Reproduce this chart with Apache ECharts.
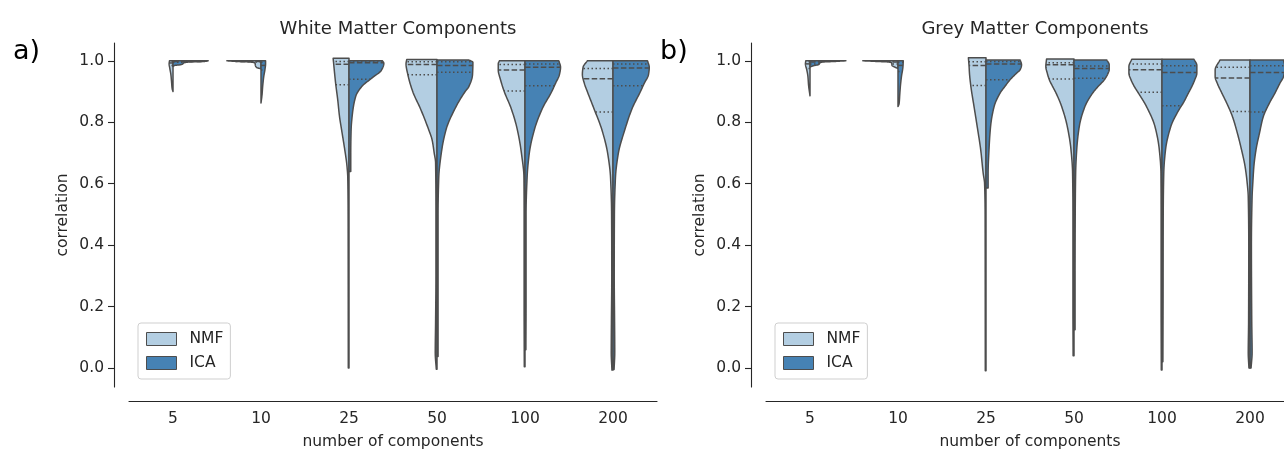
<!DOCTYPE html>
<html>
<head>
<meta charset="utf-8">
<script src="https://cdn.jsdelivr.net/npm/echarts@6/dist/echarts.min.js"></script>
<style>html,body{margin:0;padding:0;background:#fff;}#chart{width:1284px;height:449px;}</style>
</head>
<body>
<div id="chart"></div>
<script>
// ---------------- data ----------------
const categories = ['5', '10', '25', '50', '100', '200'];
const yTicks = [0, 0.2, 0.4, 0.6, 0.8, 1.0];
const seriesNames = ['NMF', 'ICA'];
const panelTitles = ['White Matter Components', 'Grey Matter Components'];
const panelLetters = ['a)', 'b)'];

// density profiles: [correlation, relative half-width] per category
const wmNMF = [
  [[1.0,0.10],[0.99,0.11],[0.975,0.09],[0.955,0.06],[0.93,0.04],[0.91,0.025],[0.90,0.0]],
  [[1.0,0.97],[0.998,0.7],[0.996,0.3],[0.993,0.17],[0.985,0.16],[0.978,0.12],[0.974,0.0]],
  [[1.008,0.45],[0.96,0.41],[0.927,0.38],[0.873,0.32],[0.819,0.27],[0.775,0.21],[0.71,0.12],[0.66,0.06],[0.62,0.035],[0.5,0.025],[0.25,0.022],[0.0,0.02]],
  [[1.004,0.86],[0.99,0.88],[0.956,0.83],[0.90,0.69],[0.844,0.47],[0.777,0.24],[0.743,0.14],[0.70,0.08],[0.668,0.04],[0.5,0.03],[0.3,0.03],[0.15,0.04],[0.05,0.05],[-0.004,0.02]],
  [[1.0,0.73],[0.99,0.76],[0.97,0.76],[0.94,0.70],[0.90,0.59],[0.844,0.39],[0.777,0.22],[0.698,0.10],[0.62,0.03],[0.5,0.025],[0.2,0.025],[0.004,0.02]],
  [[1.0,0.73],[0.979,0.85],[0.956,0.87],[0.925,0.81],[0.90,0.73],[0.844,0.54],[0.777,0.32],[0.698,0.15],[0.62,0.07],[0.5,0.04],[0.3,0.035],[0.15,0.045],[0.05,0.05],[-0.007,0.03]]
];
const wmICA = [
  [[1.0,1.0],[0.998,0.9],[0.996,0.45],[0.993,0.3],[0.99,0.28],[0.987,0.2],[0.985,0.05],[0.982,0.0]],
  [[1.0,0.13],[0.99,0.13],[0.97,0.11],[0.95,0.08],[0.92,0.05],[0.89,0.03],[0.863,0.0]],
  [[1.0,0.95],[0.992,0.99],[0.971,0.93],[0.943,0.64],[0.916,0.36],[0.884,0.19],[0.82,0.09],[0.775,0.06],[0.70,0.05],[0.64,0.05]],
  [[1.003,0.9],[0.995,1.02],[0.956,1.01],[0.915,0.9],[0.90,0.8],[0.844,0.51],[0.777,0.26],[0.698,0.12],[0.62,0.05],[0.5,0.03],[0.2,0.03],[0.037,0.03]],
  [[1.0,0.96],[0.979,1.01],[0.956,0.98],[0.925,0.86],[0.90,0.76],[0.844,0.49],[0.777,0.27],[0.698,0.12],[0.62,0.06],[0.5,0.03],[0.2,0.03],[0.059,0.025]],
  [[1.0,0.98],[0.979,1.03],[0.956,1.01],[0.925,0.88],[0.90,0.78],[0.844,0.54],[0.777,0.34],[0.698,0.15],[0.62,0.07],[0.5,0.04],[0.3,0.035],[0.15,0.045],[0.05,0.05],[-0.005,0.03]]
];
const gmNMF = [
  [[1.0,0.12],[0.99,0.13],[0.97,0.09],[0.95,0.06],[0.92,0.04],[0.886,0.0]],
  [[1.0,1.0],[0.998,0.6],[0.996,0.25],[0.993,0.18],[0.985,0.17],[0.98,0.1],[0.975,0.0]],
  [[1.01,0.50],[0.981,0.48],[0.96,0.47],[0.917,0.43],[0.851,0.34],[0.786,0.25],[0.71,0.15],[0.634,0.08],[0.6,0.04],[0.5,0.025],[0.25,0.022],[-0.009,0.02]],
  [[1.006,0.78],[0.981,0.80],[0.96,0.76],[0.938,0.70],[0.917,0.61],[0.895,0.51],[0.851,0.35],[0.786,0.19],[0.71,0.085],[0.634,0.04],[0.5,0.03],[0.2,0.03],[0.04,0.025]],
  [[1.005,0.86],[0.981,0.94],[0.96,0.94],[0.938,0.88],[0.917,0.79],[0.895,0.67],[0.851,0.44],[0.786,0.2],[0.71,0.076],[0.634,0.03],[0.5,0.025],[0.2,0.025],[-0.007,0.02]],
  [[1.003,0.85],[0.97,0.99],[0.948,0.99],[0.927,0.93],[0.895,0.80],[0.862,0.66],[0.819,0.50],[0.765,0.36],[0.71,0.24],[0.656,0.14],[0.602,0.08],[0.558,0.05],[0.4,0.035],[0.15,0.04],[0.05,0.05],[0.0,0.03]]
];
const gmICA = [
  [[1.0,1.02],[0.998,0.7],[0.996,0.35],[0.993,0.28],[0.988,0.25],[0.984,0.1],[0.98,0.0]],
  [[1.0,0.15],[0.98,0.14],[0.95,0.10],[0.92,0.07],[0.89,0.05],[0.86,0.03],[0.851,0.0]],
  [[1.003,0.97],[0.987,1.01],[0.971,0.97],[0.96,0.87],[0.938,0.68],[0.917,0.54],[0.895,0.40],[0.851,0.23],[0.786,0.13],[0.71,0.085],[0.634,0.06],[0.586,0.06]],
  [[1.003,0.93],[0.987,1.0],[0.971,1.0],[0.96,0.97],[0.938,0.86],[0.917,0.69],[0.895,0.53],[0.851,0.31],[0.786,0.15],[0.71,0.077],[0.634,0.047],[0.5,0.035],[0.3,0.03],[0.124,0.03]],
  [[1.005,0.91],[0.985,0.99],[0.96,0.99],[0.938,0.93],[0.917,0.85],[0.895,0.75],[0.862,0.6],[0.846,0.51],[0.786,0.25],[0.71,0.1],[0.634,0.05],[0.5,0.035],[0.2,0.03],[0.02,0.025]],
  [[1.003,0.95],[0.975,1.0],[0.948,0.95],[0.927,0.85],[0.895,0.71],[0.862,0.55],[0.819,0.38],[0.765,0.27],[0.71,0.17],[0.656,0.11],[0.602,0.08],[0.558,0.06],[0.4,0.04],[0.15,0.05],[0.05,0.06],[0.0,0.03]]
];

// quartiles [q1, median, q3]
const wmNMFQuart = [[0.985,0.993,0.998],[0.996,0.998,0.999],[0.922,0.989,0.998],[0.955,0.988,0.997],[0.902,0.970,0.988],[0.833,0.942,0.975]];
const wmICAQuart = [[0.995,0.998,0.999],[0.970,0.985,0.995],[0.940,0.994,0.999],[0.963,0.985,0.997],[0.919,0.979,0.990],[0.919,0.977,0.990]];
const gmNMFQuart = [[0.975,0.990,0.997],[0.990,0.996,0.999],[0.920,0.985,0.997],[0.941,0.987,0.994],[0.898,0.971,0.990],[0.835,0.944,0.979]];
const gmICAQuart = [[0.990,0.996,0.999],[0.965,0.985,0.995],[0.938,0.990,0.998],[0.943,0.975,0.983],[0.854,0.962,0.984],[0.833,0.962,0.984]];

// ---------------- style ----------------
const FONT = 'DejaVu Sans';
const TXT = '#262626';
const EDGE = '#4d4d4d';
const COLORS = { NMF: '#b3cee2', ICA: '#4682b4' };

function makeInterp(profile) {
  const pts = profile.slice().sort((a, b) => a[0] - b[0]);
  const xs = pts.map(p => p[0]), ys = pts.map(p => p[1]);
  const n = xs.length;
  const h = [], d = [];
  for (let i = 0; i < n - 1; i++) { h[i] = xs[i + 1] - xs[i]; d[i] = (ys[i + 1] - ys[i]) / h[i]; }
  const m = new Array(n);
  m[0] = d[0]; m[n - 1] = d[n - 2];
  for (let i = 1; i < n - 1; i++) {
    if (d[i - 1] * d[i] <= 0) m[i] = 0;
    else {
      const w1 = 2 * h[i] + h[i - 1], w2 = h[i] + 2 * h[i - 1];
      m[i] = (w1 + w2) / (w1 / d[i - 1] + w2 / d[i]);
    }
  }
  const f = function (x) {
    if (x <= xs[0]) return ys[0];
    if (x >= xs[n - 1]) return ys[n - 1];
    let k = 0;
    while (k < n - 2 && x > xs[k + 1]) k++;
    const t = (x - xs[k]) / h[k];
    const t2 = t * t, t3 = t2 * t;
    const v = (2 * t3 - 3 * t2 + 1) * ys[k] + (t3 - 2 * t2 + t) * h[k] * m[k] +
      (-2 * t3 + 3 * t2) * ys[k + 1] + (t3 - t2) * h[k] * m[k + 1];
    return Math.max(0, v);
  };
  const samples = [];
  for (let i = n - 1; i > 0; i--) {
    for (let s = 0; s < 12; s++) samples.push(xs[i] - (xs[i] - xs[i - 1]) * s / 12);
  }
  samples.push(xs[0]);
  return { f, samples, vmin: xs[0], vmax: xs[n - 1] };
}

function makeRender(profiles, quarts, side, color) {
  return function (params, api) {
    const i = api.value(0);
    const ip = makeInterp(profiles[i]);
    const hm = api.size([1, 0])[0] * 0.4;
    const cx = api.coord([i, 0])[0];
    const pts = [[cx, api.coord([i, ip.vmax])[1]]];
    ip.samples.forEach(v => pts.push([cx + side * ip.f(v) * hm, api.coord([i, v])[1]]));
    pts.push([cx, api.coord([i, ip.vmin])[1]]);
    const children = [{
      type: 'polygon', shape: { points: pts },
      style: { fill: color, stroke: EDGE, lineWidth: 1.5, lineJoin: 'round' }
    }];
    quarts[i].forEach((q, k) => {
      const y = api.coord([i, q])[1];
      children.push({
        type: 'line',
        shape: { x1: cx, y1: y, x2: cx + side * ip.f(q) * hm, y2: y },
        style: { stroke: EDGE, lineWidth: 1.5, lineDash: k === 1 ? [5.5, 2.4] : [1.5, 2.5] }
      });
    });
    return { type: 'group', children };
  };
}

const gridLefts = [129, 766];
const panels = [
  { NMF: wmNMF, ICA: wmICA, NMFq: wmNMFQuart, ICAq: wmICAQuart },
  { NMF: gmNMF, ICA: gmICA, NMFq: gmNMFQuart, ICAq: gmICAQuart }
];

const option = {
  animation: false,
  textStyle: { fontFamily: FONT },
  title: [
    ...panelTitles.map((t, p) => ({
      text: t, left: gridLefts[p] + 264, textAlign: 'center', top: 15,
      textStyle: { fontFamily: FONT, fontSize: 18, fontWeight: 'normal', color: TXT }
    })),
    ...panelLetters.map((t, p) => ({
      text: t, left: p === 0 ? 8 : 655, top: 33,
      textStyle: { fontFamily: FONT, fontSize: 27, fontWeight: 'normal', color: '#000' }
    }))
  ],
  grid: gridLefts.map(l => ({ left: l, top: 43, width: 528, height: 344, outerBoundsMode: 'none', containLabel: false })),
  xAxis: gridLefts.map((l, p) => ({
    type: 'category', gridIndex: p, data: categories, offset: 14,
    name: 'number of components', nameLocation: 'middle', nameGap: 33,
    nameTextStyle: { fontFamily: FONT, fontSize: 15.5, color: TXT },
    axisLine: { onZero: false, lineStyle: { color: TXT, width: 1.1 } },
    axisTick: { alignWithLabel: true, length: 6, lineStyle: { color: TXT, width: 1.1 } },
    axisLabel: { fontFamily: FONT, fontSize: 15.5, color: TXT, margin: 10 },
    splitLine: { show: false }
  })),
  yAxis: gridLefts.map((l, p) => ({
    type: 'value', gridIndex: p, min: -0.062, max: 1.058, offset: 15,
    name: 'correlation', nameLocation: 'middle', nameGap: 43, nameRotate: 90,
    nameTextStyle: { fontFamily: FONT, fontSize: 15.5, color: TXT },
    axisLine: { show: true, onZero: false, lineStyle: { color: TXT, width: 1.1 } },
    axisTick: { show: true, length: 6, customValues: yTicks, lineStyle: { color: TXT, width: 1.1 } },
    axisLabel: { fontFamily: FONT, fontSize: 15.5, color: TXT, margin: 10, customValues: yTicks,
      formatter: v => v.toFixed(1) },
    splitLine: { show: false }
  })),
  legend: gridLefts.map(l => ({
    orient: 'vertical', left: l + 9, top: 323,
    padding: [8, 7, 8, 8], itemGap: 8, itemWidth: 30, itemHeight: 13,
    borderColor: '#cfcfcf', borderWidth: 1, borderRadius: 3, backgroundColor: '#fff',
    textStyle: { fontFamily: FONT, fontSize: 15.5, color: TXT, padding: [0, 0, 0, 8] },
    data: seriesNames.map(n => ({ name: n, icon: 'rect',
      itemStyle: { color: COLORS[n], borderColor: EDGE, borderWidth: 1 } }))
  })),
  series: []
};

panels.forEach((pd, p) => {
  seriesNames.forEach((n, k) => {
    option.series.push({
      type: 'custom', name: n, xAxisIndex: p, yAxisIndex: p,
      itemStyle: { color: COLORS[n] },
      data: categories.map((c, i) => [i, 1]),
      encode: { x: 0, y: 1 },
      renderItem: makeRender(pd[n], pd[n + 'q'], k === 0 ? -1 : 1, COLORS[n])
    });
  });
});

const chart = echarts.init(document.getElementById('chart'), null, { renderer: 'canvas' });
chart.setOption(option);
</script>
</body>
</html>
